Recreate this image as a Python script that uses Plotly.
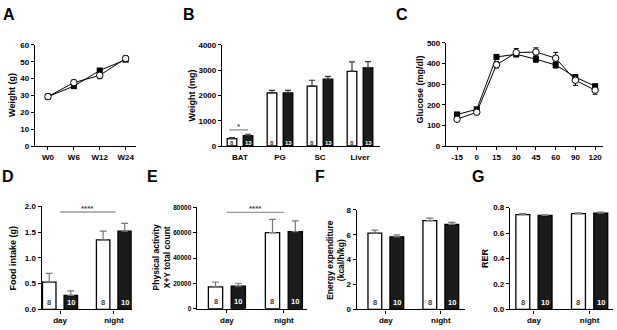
import plotly.graph_objects as go

W, H = 617, 330

# ---------------- data ----------------
A_weeks = ["W0", "W6", "W12", "W24"]
A_white = [29.3, 37.6, 41.9, 51.9]
A_white_err = [0.8, 1.5, 2.0, 1.5]
A_black = [29.3, 35.5, 44.8, 51.2]
A_black_err = [0.6, 1.0, 1.2, 1.0]

B_tissues = ["BAT", "PG", "SC", "Liver"]
B_white = [290, 2100, 2370, 2950]
B_white_err = [45, 100, 230, 380]
B_black = [410, 2100, 2640, 3090]
B_black_err = [55, 100, 110, 250]
B_n = [8, 13]
B_sig = {"level": 640, "label": "*"}

C_times = ["-15", "0", "15", "30", "45", "60", "90", "120"]
C_white = [130, 164, 394, 453, 456, 426, 319, 271]
C_white_err = [10, 12, 15, 20, 20, 28, 25, 20]
C_black = [153, 178, 432, 445, 421, 393, 334, 290]
C_black_err = [10, 8, 12, 12, 15, 15, 12, 10]

phases = ["day", "night"]
D_white = [0.53, 1.35]
D_white_err = [0.17, 0.17]
D_black = [0.27, 1.52]
D_black_err = [0.09, 0.15]
D_sig = {"level": 1.89, "label": "****"}

E_white = [17300, 60000]
E_white_err = [3800, 10500]
E_black = [17900, 60800]
E_black_err = [2200, 8500]
E_sig = {"level": 76000, "label": "****"}

F_white = [6.13, 7.14]
F_white_err = [0.25, 0.2]
F_black = [5.84, 6.83]
F_black_err = [0.15, 0.17]
F_sig = {"level": 8.3, "label": "****"}

G_white = [0.745, 0.752]
G_white_err = [0.008, 0.006]
G_black = [0.738, 0.757]
G_black_err = [0.005, 0.007]

n_counts = [8, 10]

# ---------------- helpers ----------------
FONT = "Liberation Sans, Arial, sans-serif"


def fx(p):
    return p / W


def fy(p):
    return 1 - p / H


fig = go.Figure()
annotations = []
shapes = []


def axis_common():
    return dict(showline=True, linecolor="black", linewidth=1.3, ticks="outside",
                ticklen=3, tickwidth=1.2, tickcolor="black", showgrid=False,
                zeroline=False, tickfont=dict(family=FONT, size=8, color="black", weight="bold"),
                fixedrange=True)


def set_axes(i, xdom, ydom, xrange, yrange, dtick, tickformat=None, ytsize=8):
    xa = "xaxis" if i == 1 else f"xaxis{i}"
    ya = "yaxis" if i == 1 else f"yaxis{i}"
    xref = "x" if i == 1 else f"x{i}"
    yref = "y" if i == 1 else f"y{i}"
    xd = axis_common()
    xd.update(domain=[fx(xdom[0]), fx(xdom[1])], range=xrange, type="category",
              anchor=yref)
    yd = axis_common()
    yd.update(domain=[fy(ydom[1]), fy(ydom[0])], range=yrange, dtick=dtick, tick0=0,
              anchor=xref)
    yd["tickfont"] = dict(family=FONT, size=ytsize, color="black", weight="bold")
    if tickformat:
        yd["tickformat"] = tickformat
    fig.update_layout(**{xa: xd, ya: yd})
    return xref, yref


def letter(txt, x, y):
    annotations.append(dict(text=txt, x=fx(x), y=fy(y), xref="paper", yref="paper",
                            showarrow=False, xanchor="center", yanchor="middle",
                            font=dict(family=FONT, size=16, color="black", weight="bold")))


def ytitle(txt, x, y, size=9):
    annotations.append(dict(text=txt, x=fx(x), y=fy(y), xref="paper", yref="paper",
                            showarrow=False, xanchor="center", yanchor="middle",
                            textangle=-90,
                            font=dict(family=FONT, size=size, color="black", weight="bold")))


def line_panel(i, cats, white, werr, black, berr):
    xref, yref = ("x", "y") if i == 1 else (f"x{i}", f"y{i}")
    fig.add_trace(go.Scatter(x=cats, y=black, mode="lines+markers", xaxis=xref, yaxis=yref,
                             line=dict(color="black", width=1),
                             marker=dict(symbol="square", size=6, color="black"),
                             error_y=dict(type="data", array=berr, color="black",
                                          thickness=1, width=2.5),
                             showlegend=False, cliponaxis=False))
    fig.add_trace(go.Scatter(x=cats, y=white, mode="lines+markers", xaxis=xref, yaxis=yref,
                             line=dict(color="black", width=1),
                             marker=dict(symbol="circle", size=6.5, color="white",
                                         line=dict(color="black", width=1)),
                             error_y=dict(type="data", array=werr, color="black",
                                          thickness=1, width=2.5),
                             showlegend=False, cliponaxis=False))


def bar_panel(i, cats, white, werr, black, berr, nvals, errcolor, width, off,
              nsize=7.5, nfrac=0.07, capw=3.5):
    xref, yref = f"x{i}", f"y{i}"
    zeros = [0] * len(cats)
    fig.add_trace(go.Bar(x=cats, y=white, xaxis=xref, yaxis=yref, width=width,
                         offset=-off - width / 2,
                         marker=dict(color="white", line=dict(color="black", width=1.3)),
                         error_y=dict(type="data", symmetric=False, array=werr,
                                      arrayminus=zeros, color=errcolor, thickness=1.2,
                                      width=capw),
                         showlegend=False))
    fig.add_trace(go.Bar(x=cats, y=black, xaxis=xref, yaxis=yref, width=width,
                         offset=off - width / 2,
                         marker=dict(color="#1b1b1b", line=dict(color="black", width=1.3)),
                         error_y=dict(type="data", symmetric=False, array=berr,
                                      arrayminus=zeros, color=errcolor, thickness=1.2,
                                      width=capw),
                         showlegend=False))
    for k in range(len(cats)):
        annotations.append(dict(text=str(nvals[0]), x=k - off, y=nfrac, xref=xref,
                                yref=f"{yref} domain", showarrow=False,
                                xanchor="center", yanchor="middle",
                                font=dict(family=FONT, size=nsize, color="#404040",
                                          weight="bold")))
        annotations.append(dict(text=str(nvals[1]), x=k + off, y=nfrac, xref=xref,
                                yref=f"{yref} domain", showarrow=False,
                                xanchor="center", yanchor="middle",
                                font=dict(family=FONT, size=nsize, color="white",
                                          weight="bold")))


def sig(i, x0, x1, sigd, color="#999999", fsize=8):
    xref, yref = f"x{i}", f"y{i}"
    shapes.append(dict(type="line", xref=xref, yref=yref, x0=x0, x1=x1,
                       y0=sigd["level"], y1=sigd["level"],
                       line=dict(color=color, width=1.4)))
    annotations.append(dict(text=sigd["label"], x=(x0 + x1) / 2, y=sigd["level"],
                            xref=xref, yref=yref, showarrow=False, yanchor="bottom",
                            yshift=-3,
                            font=dict(family=FONT, size=fsize, color="#444444",
                                      weight="bold")))


# ---------------- A ----------------
set_axes(1, (35, 136), (42, 146), [-0.5, 3.4], [0, 60], 10)
line_panel(1, A_weeks, A_white, A_white_err, A_black, A_black_err)
letter("A", 9, 11)
ytitle("Weight (g)", 12.5, 94)

# ---------------- B ----------------
set_axes(2, (222, 380), (42, 146), [-0.45, 3.5], [0, 4000], 1000)
bar_panel(2, B_tissues, B_white, B_white_err, B_black, B_black_err, B_n, "#333333",
          0.24, 0.2, nsize=6, nfrac=0.03, capw=3)
sig(2, -0.27, 0.2, B_sig, color="#888888", fsize=8)
letter("B", 189, 11)
ytitle("Weight (mg)", 192, 94)

# ---------------- C ----------------
set_axes(3, (446, 603), (40, 146), [-0.56, 7.4], [0, 500], 100)
line_panel(3, C_times, C_white, C_white_err, C_black, C_black_err)
letter("C", 402.5, 11)
ytitle("Glucose (mg/dl)", 420, 88)

# ---------------- D ----------------
set_axes(4, (41.7, 131.7), (208, 314), [-0.34, 1.33], [0, 2.0], 0.5, ".1f")
bar_panel(4, phases, D_white, D_white_err, D_black, D_black_err, n_counts, "#777777",
          0.25, 0.2)
sig(4, 0, 1.03, D_sig)
letter("D", 8, 177)
ytitle("Food intake (g)", 12.5, 261)

# ---------------- E ----------------
set_axes(5, (196.7, 306.7), (209, 313.3), [-0.53, 1.4], [0, 80000], 20000, "d", ytsize=6.5)
bar_panel(5, phases, E_white, E_white_err, E_black, E_black_err, n_counts, "#777777",
          0.25, 0.2)
sig(5, 0, 1, E_sig)
letter("E", 152, 177)
ytitle("Physical activity<br>X+Y total count", 161.5, 261, size=8.5)

# ---------------- F ----------------
set_axes(6, (356.7, 465), (211.7, 314), [-0.53, 1.44], [0, 8], 2)
bar_panel(6, phases, F_white, F_white_err, F_black, F_black_err, n_counts, "#777777",
          0.25, 0.2)
sig(6, 0, 1, F_sig)
letter("F", 320, 177)
ytitle("Energy expenditure<br>(kcal/h/kg)", 336, 263, size=8.5)

# ---------------- G ----------------
set_axes(7, (510, 613), (209.3, 314), [-0.43, 1.42], [0, 0.8], 0.2, ".1f")
bar_panel(7, phases, G_white, G_white_err, G_black, G_black_err, n_counts, "#777777",
          0.25, 0.2)
letter("G", 478, 177)
ytitle("RER", 485, 261)

fig.update_layout(width=W, height=H, margin=dict(l=0, r=0, t=0, b=0),
                  paper_bgcolor="white", plot_bgcolor="white", barmode="overlay",
                  annotations=annotations, shapes=shapes, showlegend=False,
                  font=dict(family=FONT, color="black"))

fig.write_html("out.html", config={"displayModeBar": False},
               post_script="document.body.style.margin='0';document.body.style.overflow='hidden';")
